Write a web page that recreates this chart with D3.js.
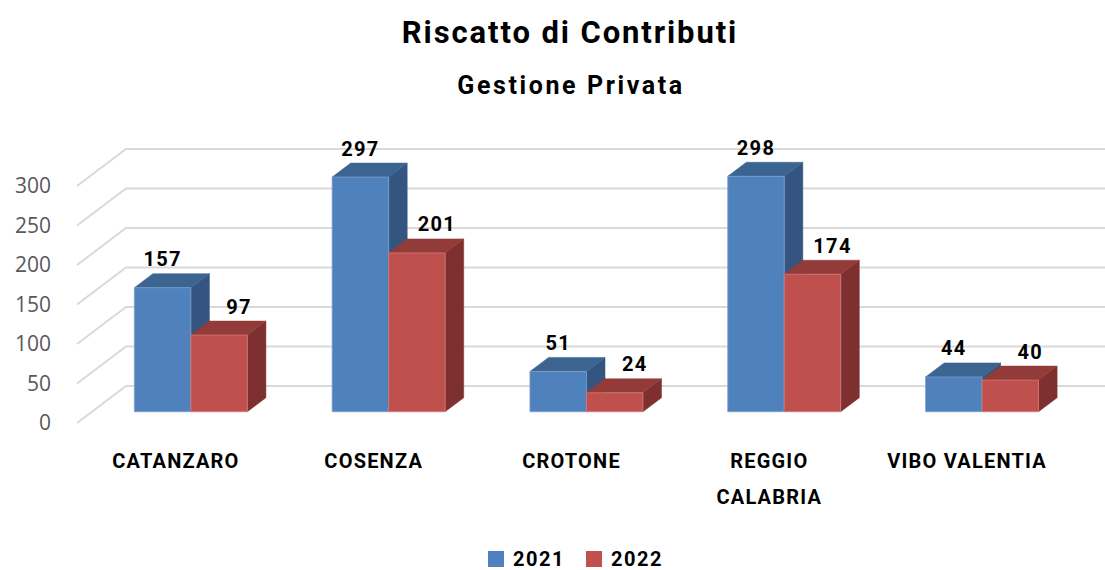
<!DOCTYPE html>
<html>
<head>
<meta charset="utf-8">
<script src="https://cdn.jsdelivr.net/npm/d3@7"></script>
<style>
  body { margin: 0; background: #fff; }
  text { font-family: Roboto, "Open Sans", sans-serif; }
</style>
</head>
<body>
<script>
// chart data
var categories = ["CATANZARO", "COSENZA", "CROTONE", "REGGIO CALABRIA", "VIBO VALENTIA"];
var seriesNames = ["2021", "2022"];
var values2021 = [157, 297, 51, 298, 44];
var values2022 = [97, 201, 24, 174, 40];
var yTicks = [0, 50, 100, 150, 200, 250, 300];

var width = 1105, height = 570;
var colors = {
  "2021": { front: "#4f81bd", top: "#3c6491", side: "#335580", edge: "#7d9fcb" },
  "2022": { front: "#c0504d", top: "#933b39", side: "#7d302f", edge: "#cf7c7a" }
};

// depth of the 3d box: shift from front plane to back wall
var depthX = 49, depthY = -37;
var barFront = 0.305, barBack = 0.684;

var svg = d3.select("body").append("svg")
    .attr("width", width)
    .attr("height", height);

var x = d3.scaleBand().domain(categories).range([77, 77 + 5 * 197.8]);
var xInner = d3.scaleBand().domain(seriesNames)
    .range([x.bandwidth() / 2 - 56.5, x.bandwidth() / 2 + 56.5]);
var y = d3.scaleLinear().domain([0, 300]).range([423, 186]);

function pt(px, v, f) {
  return [px + f * depthX, y(v) + f * depthY];
}

// title
svg.append("text")
    .attr("x", 570).attr("y", 43)
    .attr("text-anchor", "middle")
    .style("font-size", "31px").style("font-weight", "bold")
    .style("letter-spacing", "1.9px")
    .text("Riscatto di Contributi");
svg.append("text")
    .attr("x", 571).attr("y", 94)
    .attr("text-anchor", "middle")
    .style("font-size", "25px").style("font-weight", "bold")
    .style("letter-spacing", "2.6px")
    .text("Gestione Privata");

// gridlines (floor diagonal + back wall)
var grid = svg.append("g");
yTicks.forEach(function(t) {
  var a = pt(77, t, 0), b = pt(77, t, 1);
  grid.append("polyline")
      .attr("points", [a, b, [width + 20, b[1]]].map(function(p) { return p.join(","); }).join(" "))
      .attr("fill", "none")
      .attr("stroke", "#d9d9d9")
      .attr("stroke-width", 2);
});

// y tick labels
svg.append("g").selectAll("text")
  .data(yTicks)
  .enter().append("text")
    .attr("x", 51)
    .attr("y", function(d) { return y(d); })
    .attr("dy", "0.35em")
    .attr("text-anchor", "end")
    .style("font-family", "'Open Sans', sans-serif")
    .style("font-size", "21px")
    .style("fill", "#595959")
    .text(function(d) { return d; });

// bars
var rows = [];
categories.forEach(function(c, i) {
  rows.push({ cat: c, s: "2021", v: values2021[i] });
  rows.push({ cat: c, s: "2022", v: values2022[i] });
});

function poly(points) {
  return points.map(function(p) { return p.join(","); }).join(" ");
}

var bars = svg.append("g").selectAll("g")
  .data(rows)
  .enter().append("g");

bars.each(function(d) {
  var g = d3.select(this);
  var x0 = x(d.cat) + xInner(d.s), x1 = x0 + xInner.bandwidth();
  var c = colors[d.s];
  // right side
  g.append("polygon")
      .attr("points", poly([pt(x1, 0, barFront), pt(x1, 0, barBack), pt(x1, d.v, barBack), pt(x1, d.v, barFront)]))
      .attr("fill", c.side).attr("stroke", c.side).attr("stroke-width", 0.5);
  // top
  g.append("polygon")
      .attr("points", poly([pt(x0, d.v, barFront), pt(x0, d.v, barBack), pt(x1, d.v, barBack), pt(x1, d.v, barFront)]))
      .attr("fill", c.top).attr("stroke", c.top).attr("stroke-width", 0.5);
  // front
  g.append("polygon")
      .attr("points", poly([pt(x0, 0, barFront), pt(x1, 0, barFront), pt(x1, d.v, barFront), pt(x0, d.v, barFront)]))
      .attr("fill", c.front).attr("stroke", c.edge).attr("stroke-width", 0.8);
});

// value labels
bars.append("text")
    .attr("x", function(d) {
      var cx = x(d.cat) + xInner(d.s) + xInner.bandwidth() / 2;
      return pt(cx, d.v, barFront)[0] + (d.s === "2022" ? 20 : 0);
    })
    .attr("y", function(d) { return pt(0, d.v, barFront)[1] - 21.5; })
    .attr("text-anchor", "middle")
    .style("font-size", "20px").style("font-weight", "bold")
    .style("letter-spacing", "1.3px")
    .text(function(d) { return d.v; });

// category labels
var catLabels = svg.append("g").selectAll("text")
  .data(categories)
  .enter().append("text")
    .attr("x", function(d) { return x(d) + x.bandwidth() / 2; })
    .attr("y", 468)
    .attr("text-anchor", "middle")
    .style("font-size", "20px").style("font-weight", "bold")
    .style("letter-spacing", "1.2px");
catLabels.each(function(d) {
  var words = d === "REGGIO CALABRIA" ? ["REGGIO", "CALABRIA"] : [d];
  var t = d3.select(this);
  words.forEach(function(w, i) {
    t.append("tspan")
        .attr("x", x(d) + x.bandwidth() / 2)
        .attr("dy", i === 0 ? 0 : 36)
        .text(w);
  });
});

// legend
var legend = svg.append("g").selectAll("g")
  .data(seriesNames)
  .enter().append("g")
    .attr("transform", function(d, i) { return "translate(" + (488 + i * 98) + ",551)"; });
legend.append("rect")
    .attr("width", 16).attr("height", 16)
    .attr("fill", function(d) { return colors[d].front; });
legend.append("text")
    .attr("x", 25).attr("y", 15)
    .style("font-size", "20px").style("font-weight", "bold")
    .style("letter-spacing", "1.5px")
    .text(function(d) { return d; });
</script>
</body>
</html>
